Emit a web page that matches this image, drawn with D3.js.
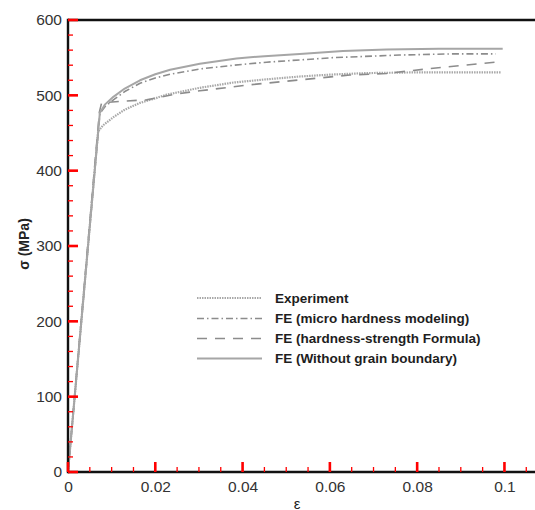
<!DOCTYPE html>
<html>
<head>
<meta charset="utf-8">
<script src="https://cdn.jsdelivr.net/npm/d3@7"></script>
<style>
  html, body { margin: 0; padding: 0; background: #fff; }
  svg { display: block; }
</style>
</head>
<body>
<svg id="chart" width="535" height="510"></svg>
<script>
// Stress–strain curves: strain (ε) vs. stress σ (MPa)
const experiment = [
  [0, 0], [0.0069, 452], [0.008, 460], [0.0104, 471], [0.013, 481], [0.0165, 490],
  [0.02, 496], [0.0226, 501], [0.0302, 510], [0.0379, 517], [0.045, 521],
  [0.0531, 525], [0.06, 527.5], [0.0684, 529.5], [0.0799, 530.5], [0.0992, 530.5]
];
const microHardness = [
  [0, 0], [0.0073, 476], [0.0085, 485], [0.0104, 494], [0.013, 505], [0.0165, 516],
  [0.02, 523], [0.0234, 528], [0.0302, 535], [0.038, 540], [0.0455, 544],
  [0.0607, 550], [0.076, 553.5], [0.088, 555], [0.098, 555]
];
const hardnessFormula = [
  [0, 0], [0.0072, 478], [0.0077, 490], [0.012, 492], [0.018, 494], [0.025, 502],
  [0.0302, 506], [0.0417, 514], [0.0531, 520.5], [0.0646, 527], [0.073, 529],
  [0.0837, 536], [0.098, 544]
];
const noGrainBoundary = [
  [0, 0], [0.0073, 477], [0.0085, 488], [0.0104, 498], [0.013, 509], [0.0165, 520],
  [0.02, 528], [0.0234, 534], [0.0302, 542], [0.0386, 549], [0.045, 552],
  [0.0531, 555], [0.063, 559], [0.073, 561], [0.085, 562], [0.0996, 562]
];

const seriesNames = [
  "Experiment",
  "FE (micro hardness modeling)",
  "FE (hardness-strength Formula)",
  "FE (Without grain boundary)"
];
const xTicks = [0, 0.02, 0.04, 0.06, 0.08, 0.1];
const xTickLabels = ["0", "0.02", "0.04", "0.06", "0.08", "0.1"];
const yTicks = [0, 100, 200, 300, 400, 500, 600];
const xTitle = "ε";
const yTitle = "σ (MPa)";

const svg = d3.select("#chart");
const padLeft = 68, padTop = 20, padBottom = 472, padRight = 535;

const x = d3.scaleLinear().domain([0, 0.107]).range([padLeft, padRight]);
const y = d3.scaleLinear().domain([0, 600]).range([padBottom, padTop]);

const axisColor = "#111";
const labelColor = "#333";
const font = "'Liberation Sans', Arial, sans-serif";

// Curves
const styles = [
  { data: experiment, dash: "1.5,1", width: 2.2, color: "#a8a8a8" },
  { data: microHardness, dash: "7,3,1.5,3", width: 1.6, color: "#8c8c8c" },
  { data: hardnessFormula, dash: "10,8", width: 1.6, color: "#8c8c8c" },
  { data: noGrainBoundary, dash: null, width: 2, color: "#a6a6a6" }
];
const line = d3.line().x(d => x(d[0])).y(d => y(d[1])).curve(d3.curveLinear);

const curves = svg.append("g");
styles.forEach(s => {
  curves.append("path")
    .attr("d", line(s.data))
    .attr("fill", "none")
    .attr("stroke", s.color)
    .attr("stroke-width", s.width)
    .attr("stroke-dasharray", s.dash)
    .attr("stroke-linejoin", "round");
});

// Tick labels from d3 axes
const gx = svg.append("g").attr("transform", `translate(0,${padBottom})`)
  .call(d3.axisBottom(x).tickValues(xTicks).tickSize(0).tickPadding(8)
    .tickFormat((d, i) => xTickLabels[i]));
const gy = svg.append("g").attr("transform", `translate(${padLeft},0)`)
  .call(d3.axisLeft(y).tickValues(yTicks).tickSize(0).tickPadding(6));
[gx, gy].forEach(g => {
  g.select(".domain").remove();
  g.selectAll(".tick line").remove();
  g.selectAll(".tick text").attr("fill", labelColor)
    .style("font-family", font).style("font-size", "15.5px");
});
gx.selectAll(".tick text").attr("dy", "0.8em");

// Frame
svg.append("line").attr("x1", padLeft).attr("x2", padRight + 2).attr("y1", padBottom).attr("y2", padBottom)
  .attr("stroke", axisColor).attr("stroke-width", 2.4);
svg.append("line").attr("x1", padLeft).attr("x2", padRight + 2).attr("y1", padTop).attr("y2", padTop)
  .attr("stroke", axisColor).attr("stroke-width", 2.4);
svg.append("line").attr("x1", padLeft).attr("x2", padLeft).attr("y1", padTop - 1.2).attr("y2", padBottom + 1.2)
  .attr("stroke", axisColor).attr("stroke-width", 2.4);

// Inward tick marks as filled rectangles
const xMinorVals = d3.range(1, 22).map(i => i * 0.005).filter((v, i) => (i + 1) % 4 !== 0);
const yMinorVals = d3.range(1, 30).map(i => i * 20).filter(v => v % 100 !== 0);

const tickLayer = svg.append("g");
tickLayer.selectAll("rect.xmaj").data(xTicks).join("rect").attr("class", "xmaj")
  .attr("x", d => x(d) - 1.3).attr("y", padBottom - 10).attr("width", 2.6).attr("height", 10)
  .attr("fill", "red");
tickLayer.selectAll("rect.xmin").data(xMinorVals).join("rect").attr("class", "xmin")
  .attr("x", d => x(d) - 0.65).attr("y", padBottom - 5).attr("width", 1.3).attr("height", 5)
  .attr("fill", "red");
tickLayer.selectAll("rect.ymaj").data(yTicks).join("rect").attr("class", "ymaj")
  .attr("x", padLeft).attr("y", d => y(d) - 1.3).attr("width", 10).attr("height", 2.6)
  .attr("fill", "red");
tickLayer.selectAll("rect.ymin").data(yMinorVals).join("rect").attr("class", "ymin")
  .attr("x", padLeft).attr("y", d => y(d) - 0.65).attr("width", 5).attr("height", 1.3)
  .attr("fill", "red");

// Axis titles
svg.append("text").attr("x", 297).attr("y", 509)
  .attr("text-anchor", "middle").attr("fill", "#222")
  .style("font-family", font).style("font-size", "15px").text(xTitle);
svg.append("text").attr("transform", "translate(29,244) rotate(-90)")
  .attr("text-anchor", "middle").attr("fill", "#222")
  .style("font-family", font).style("font-size", "14px").style("font-weight", "bold")
  .text(yTitle);

// Legend
const legend = svg.append("g");
const legendY = [298, 318.5, 338.5, 358.5];
styles.forEach((s, i) => {
  legend.append("line")
    .attr("x1", 197).attr("x2", 262).attr("y1", legendY[i]).attr("y2", legendY[i])
    .attr("stroke", s.color).attr("stroke-width", s.width)
    .attr("stroke-dasharray", s.dash);
  legend.append("text")
    .attr("x", 275).attr("y", legendY[i]).attr("dy", "0.36em")
    .attr("fill", "#1e1e1e")
    .style("font-family", font).style("font-size", "13.5px").style("font-weight", "bold")
    .text(seriesNames[i]);
});
</script>
</body>
</html>
